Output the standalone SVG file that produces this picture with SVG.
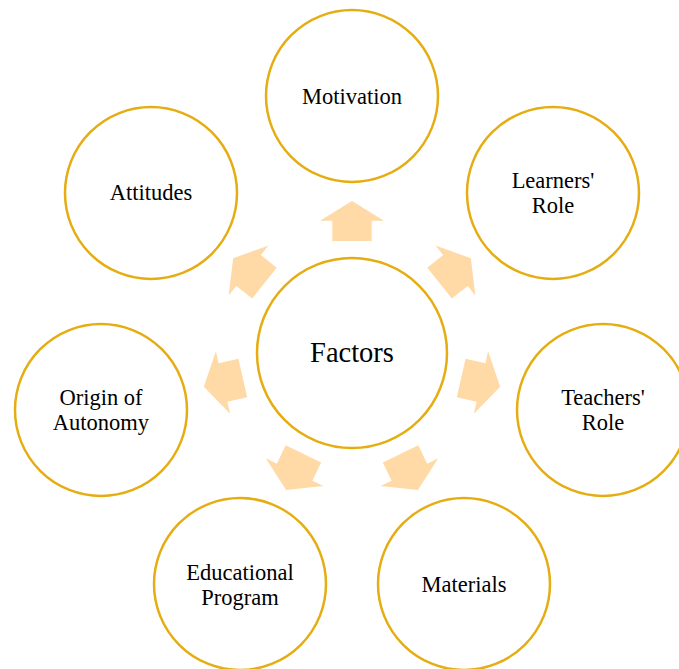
<svg xmlns="http://www.w3.org/2000/svg" xmlns:xlink="http://www.w3.org/1999/xlink" width="679" height="669" viewBox="0 0 679 669">
  <style>
    .ring { fill: #ffffff; stroke: #E5AD12; stroke-width: 2.5; }
    .arrow { fill: #FFDAA6; stroke: none; }
    .label { font-family: "Times New Roman", "Liberation Serif", "DejaVu Serif", serif; font-size: 22.5px; fill: #000000; text-anchor: middle; }
    .hub { font-size: 28.5px; }
  </style>
  <defs>
    <!-- stubby block arrow pointing up, drawn relative to the hub centre -->
    <polygon id="spoke" class="arrow" points="0,-152 32,-132.3 19.7,-132.3 19.7,-112 -19.7,-112 -19.7,-132.3 -32,-132.3"/>
  </defs>
  <rect width="679" height="669" fill="#ffffff"/>

  <g id="connectors" transform="translate(352,353)">
    <use xlink:href="#spoke" transform="rotate(0)"/>
    <use xlink:href="#spoke" transform="rotate(51.43)"/>
    <use xlink:href="#spoke" transform="rotate(102.86)"/>
    <use xlink:href="#spoke" transform="rotate(154.29)"/>
    <use xlink:href="#spoke" transform="rotate(205.71)"/>
    <use xlink:href="#spoke" transform="rotate(257.14)"/>
    <use xlink:href="#spoke" transform="rotate(308.57)"/>
  </g>

  <g id="factors">
    <circle class="ring" cx="352" cy="353" r="95"/>
    <text class="label hub" x="352" y="362">Factors</text>
  </g>

  <g id="motivation">
    <circle class="ring" cx="352" cy="96" r="86"/>
    <text class="label" x="352" y="104">Motivation</text>
  </g>

  <g id="learners-role">
    <circle class="ring" cx="553" cy="193" r="86"/>
    <text class="label" x="553" y="188">Learners'</text>
    <text class="label" x="553" y="213">Role</text>
  </g>

  <g id="teachers-role">
    <circle class="ring" cx="603" cy="410" r="86"/>
    <text class="label" x="603" y="405">Teachers'</text>
    <text class="label" x="603" y="430">Role</text>
  </g>

  <g id="materials">
    <circle class="ring" cx="464" cy="584" r="86"/>
    <text class="label" x="464" y="592">Materials</text>
  </g>

  <g id="educational-program">
    <circle class="ring" cx="240" cy="584" r="86"/>
    <text class="label" x="240" y="580">Educational</text>
    <text class="label" x="240" y="605">Program</text>
  </g>

  <g id="origin-of-autonomy">
    <circle class="ring" cx="101" cy="410" r="86"/>
    <text class="label" x="101" y="405">Origin of</text>
    <text class="label" x="101" y="430">Autonomy</text>
  </g>

  <g id="attitudes">
    <circle class="ring" cx="151" cy="193" r="86"/>
    <text class="label" x="151" y="200">Attitudes</text>
  </g>
</svg>
